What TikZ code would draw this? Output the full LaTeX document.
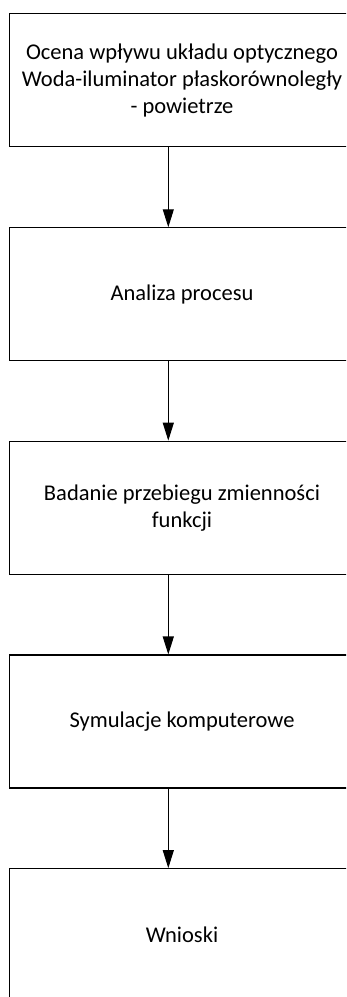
\documentclass[tikz,border=0pt]{standalone}
\usepackage{fontspec}
\setmainfont{Carlito}
\usetikzlibrary{arrows.meta}
\begin{document}
\begin{tikzpicture}[x=1pt, y=-1pt,
  stepbox/.style={draw=black, line width=1.1pt, rectangle,
    minimum width=345pt, minimum height=133pt, inner sep=0pt,
    align=center, font=\fontsize{22.5}{27}\selectfont},
  flow/.style={draw=black, line width=1.1pt,
    -{Triangle[length=18pt, width=11pt]}}]
  \useasboundingbox (0,0) rectangle (346,997);
  \clip (0,0) rectangle (346,997);

  % process steps
  \node[stepbox] (b1) at (182,80) {Ocena wpływu układu optycznego\\Woda-iluminator płaskorównoległy\\- powietrze};
  \node[stepbox] (b2) at (182,294.3) {Analiza procesu};
  \node[stepbox] (b3) at (182,507.7) {Badanie przebiegu zmienności\\funkcji};
  \node[stepbox] (b4) at (182,721.5) {Symulacje komputerowe};
  \node[stepbox] (b5) at (182,935.2) {Wnioski};

  % vertical line for the connectors
  \coordinate (ax) at (168.3,0);

  \draw[flow] (b1.south -| ax) -- (b2.north -| ax);
  \draw[flow] (b2.south -| ax) -- (b3.north -| ax);
  \draw[flow] (b3.south -| ax) -- (b4.north -| ax);
  \draw[flow] (b4.south -| ax) -- (b5.north -| ax);
\end{tikzpicture}
\end{document}
